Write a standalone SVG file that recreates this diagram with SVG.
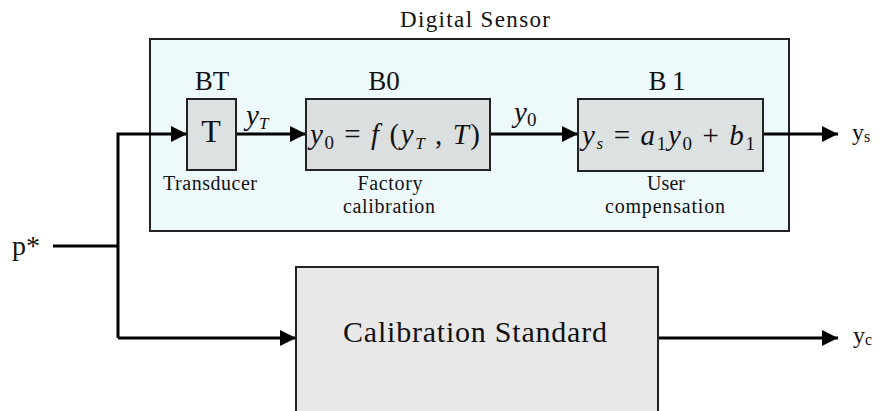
<svg xmlns="http://www.w3.org/2000/svg" width="881" height="411" viewBox="0 0 881 411">
<style>
.box{stroke:#222;stroke-width:2}
.line{stroke:#000;stroke-width:3;fill:none}
.t{font-family:"Liberation Serif","Times New Roman",serif;fill:#111}
.i{font-style:italic}
</style>
<defs>
<marker id="arr" markerWidth="16" markerHeight="16" refX="16" refY="8" orient="auto" markerUnits="userSpaceOnUse">
<path d="M0,0 L16,8 L0,16 Z" fill="#000"/>
</marker>
</defs>
<rect width="881" height="411" fill="#fff"/>
<g id="digital-sensor">
<rect class="box" x="150" y="39" width="639" height="192" fill="#edf9fb"/>
<text class="t" x="475" y="27" font-size="23" text-anchor="middle" textLength="150">Digital Sensor</text>
</g>
<g id="connectors">
<polyline class="line" points="53,246 118,246"/>
<polyline class="line" points="118,338 118,134 187,134" marker-end="url(#arr)"/>
<polyline class="line" points="118,338 296,338" marker-end="url(#arr)"/>
<line class="line" x1="236" y1="134" x2="306" y2="134" marker-end="url(#arr)"/>
<line class="line" x1="490" y1="134" x2="578" y2="134" marker-end="url(#arr)"/>
<line class="line" x1="763" y1="134" x2="838" y2="134" marker-end="url(#arr)"/>
<line class="line" x1="658" y1="338" x2="838" y2="338" marker-end="url(#arr)"/>
</g>
<g id="BT">
<rect class="box" x="187" y="99" width="49" height="71" fill="#dce2e2"/>
<text class="t" x="212" y="90" font-size="27" text-anchor="middle">BT</text>
<text class="t" x="211" y="142" font-size="32" text-anchor="middle">T</text>
<text class="t" x="210" y="190" font-size="20" text-anchor="middle" textLength="94">Transducer</text>
</g>
<g id="B0">
<rect class="box" x="306" y="99" width="184" height="71" fill="#dcdfdf"/>
<text class="t" x="384" y="90" font-size="27" text-anchor="middle">B0</text>
<text class="t i" x="310" y="144" font-size="29" textLength="170">y<tspan font-size="19" font-style="normal" dy="5">0</tspan><tspan dy="-5" font-style="normal"> = </tspan>f<tspan font-style="normal"> (</tspan>y<tspan font-size="17" dy="5">T</tspan><tspan dy="-5" font-style="normal"> , </tspan>T<tspan font-style="normal">)</tspan></text>
<text class="t" x="390" y="190" font-size="20" text-anchor="middle" textLength="65">Factory</text>
<text class="t" x="389" y="213" font-size="20" text-anchor="middle" textLength="92">calibration</text>
</g>
<g id="B1">
<rect class="box" x="578" y="99" width="185" height="72" fill="#dce2e2"/>
<text class="t" x="667" y="90" font-size="27" text-anchor="middle" textLength="37">B1</text>
<text class="t i" x="582" y="145" font-size="29" textLength="173">y<tspan font-size="17" dy="4">s</tspan><tspan dy="-4" font-style="normal"> = </tspan>a<tspan font-size="19" font-style="normal" dy="5">1</tspan><tspan dy="-5">y</tspan><tspan font-size="19" font-style="normal" dy="5">0</tspan><tspan dy="-5" font-style="normal">  + </tspan>b<tspan font-size="19" font-style="normal" dy="5">1</tspan></text>
<text class="t" x="666" y="190" font-size="20" text-anchor="middle" textLength="38">User</text>
<text class="t" x="665" y="213" font-size="20" text-anchor="middle" textLength="120">compensation</text>
</g>
<g id="calibration-standard">
<rect class="box" x="296" y="267" width="362" height="145" fill="#e8e8e8"/>
<text class="t" x="475" y="342" font-size="30" text-anchor="middle" textLength="264">Calibration Standard</text>
</g>
<g id="labels">
<text class="t" x="12" y="255" font-size="28">p*</text>
<text class="t i" x="246" y="125" font-size="29">y<tspan font-size="17" dy="4">T</tspan></text>
<text class="t i" x="514" y="122" font-size="29">y<tspan font-size="19" font-style="normal" dy="4">0</tspan></text>
<text class="t" x="852" y="140" font-size="24">y<tspan font-size="16" dy="2">s</tspan></text>
<text class="t" x="853" y="343" font-size="24">y<tspan font-size="16" dy="2">c</tspan></text>
</g>
</svg>
